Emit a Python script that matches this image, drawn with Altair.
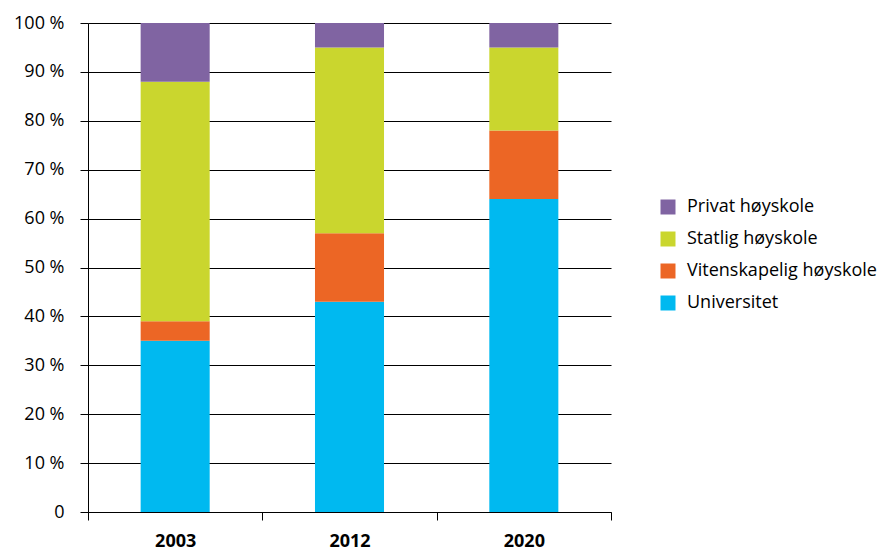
import altair as alt
import pandas as pd

years = ["2003", "2012", "2020"]
categories = ["Universitet", "Vitenskapelig høyskole", "Statlig høyskole", "Privat høyskole"]
universitet = [35, 43, 64]
vitenskapelig = [4, 14, 14]
statlig = [49, 38, 17]
privat = [12, 5, 5]
colors = ["#00B9F0", "#EC6625", "#CAD62E", "#8064A2"]

series = [universitet, vitenskapelig, statlig, privat]
rows = []
for ci, (cat, vals) in enumerate(zip(categories, series)):
    for y, v in zip(years, vals):
        rows.append({"year": y, "category": cat, "value": v, "order": ci})
df = pd.DataFrame(rows)

FONT = "Open Sans"
FS = 18

chart = alt.Chart(df).mark_bar(width=alt.RelativeBandSize(0.396)).encode(
    x=alt.X("year:N", sort=years, title=None,
            scale=alt.Scale(paddingInner=0, paddingOuter=0),
            axis=alt.Axis(labelAngle=0, tickBand="extent", labelFontWeight="bold",
                          labelFontSize=FS, labelFont=FONT, labelColor="#000",
                          tickColor="#000", tickSize=8, domainColor="#000",
                          labelPadding=12, grid=False)),
    y=alt.Y("value:Q", stack="zero", title=None,
            scale=alt.Scale(domain=[0, 100]),
            axis=alt.Axis(values=list(range(0, 101, 10)),
                          labelExpr="datum.value == 0 ? '0' : datum.value + ' %'",
                          labelFontSize=FS, labelFont=FONT, labelColor="#000",
                          tickColor="#000", tickSize=8, domainColor="#000",
                          gridColor="#000", gridOpacity=1, labelPadding=16)),
    color=alt.Color("category:N", sort=categories[::-1],
                    scale=alt.Scale(domain=categories[::-1], range=colors[::-1]),
                    legend=alt.Legend(title=None, orient="none", legendX=571, legendY=175,
                                      symbolType="square", symbolSize=225,
                                      symbolStrokeWidth=0, labelFontSize=FS,
                                      labelFont=FONT, labelColor="#000", labelLimit=0,
                                      labelOffset=10, rowPadding=14)),
    order=alt.Order("order:Q", sort="ascending"),
).properties(
    width=523, height=489,
    padding={"left": 88, "top": 23, "right": 280, "bottom": 41},
    autosize=alt.AutoSizeParams(type="none"),
).configure_view(stroke=None).configure_axis(domainWidth=1, tickWidth=1, gridWidth=1)

chart.save("out.html", embed_options={"renderer": "svg", "actions": False})
